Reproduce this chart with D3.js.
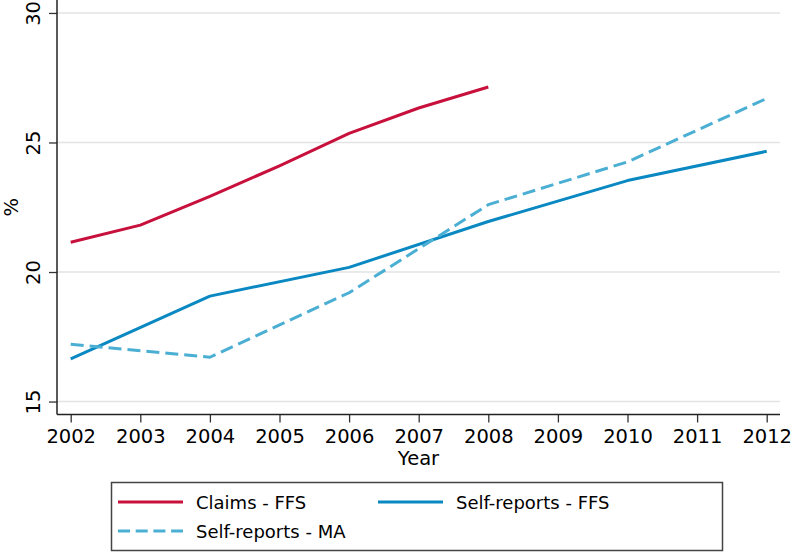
<!DOCTYPE html>
<html>
<head>
<meta charset="utf-8">
<script src="https://cdn.jsdelivr.net/npm/d3@7"></script>
<style>
  html, body { margin: 0; padding: 0; background: #fff; }
  svg { display: block; }
  text { font-family: "DejaVu Sans", Verdana, sans-serif; fill: #000; }
</style>
</head>
<body>
<svg id="chart" width="793" height="553"></svg>
<script>
// ---- data ----
const claimsYears = [2002, 2003, 2004, 2005, 2006, 2007, 2008];
const claimsFFS   = [21.15, 21.81, 22.92, 24.10, 25.35, 26.33, 27.14];
const selfYears   = [2002, 2004, 2006, 2008, 2010, 2012];
const selfFFS     = [16.65, 19.07, 20.18, 21.95, 23.53, 24.66];
const selfMA      = [17.21, 16.71, 19.20, 22.60, 24.25, 26.70];
const xTicks = [2002, 2003, 2004, 2005, 2006, 2007, 2008, 2009, 2010, 2011, 2012];
const yTicks = [15, 20, 25, 30];
const seriesNames = ["Claims - FFS", "Self-reports - FFS", "Self-reports - MA"];
const seriesColors = ["#C8103C", "#0A88C2", "#4BAFD4"];

const svg = d3.select("#chart");
const pLeft = 57, pRight = 780, pBottom = 414.5, pTop = 0;

const x = d3.scaleLinear().domain([2002, 2012]).range([70.7, 766.7]);
const y = d3.scaleLinear().domain([14.5, 30.5]).range([pBottom, pTop]);

// gridlines
svg.append("g").selectAll("line").data(yTicks).join("line")
  .attr("x1", pLeft).attr("x2", pRight)
  .attr("y1", d => y(d)).attr("y2", d => y(d))
  .attr("stroke", "#e3e3e3").attr("stroke-width", 1.5);

// y axis
const yAxis = svg.append("g").attr("transform", `translate(${pLeft},0)`)
  .call(d3.axisLeft(y).tickValues(yTicks).tickSize(8).tickFormat(d3.format("d")));
yAxis.select(".domain").remove();
yAxis.selectAll(".tick line").attr("stroke", "#333").attr("stroke-width", 1.3);
yAxis.selectAll(".tick text")
  .attr("font-size", 19.5)
  .attr("font-family", "DejaVu Sans, Verdana, sans-serif")
  .attr("text-anchor", "middle")
  .attr("x", 0).attr("y", 0).attr("dy", 0)
  .attr("transform", "translate(-17,0) rotate(-90)");
svg.append("line").attr("x1", pLeft).attr("x2", pLeft).attr("y1", pTop).attr("y2", pBottom)
  .attr("stroke", "#222").attr("stroke-width", 1.5);

// x axis
const xAxis = svg.append("g").attr("transform", `translate(0,${pBottom})`)
  .call(d3.axisBottom(x).tickValues(xTicks).tickSize(8).tickFormat(d3.format("d")));
xAxis.select(".domain").remove();
xAxis.selectAll(".tick line").attr("stroke", "#333").attr("stroke-width", 1.3);
xAxis.selectAll(".tick text")
  .attr("font-size", 19.5)
  .attr("font-family", "DejaVu Sans, Verdana, sans-serif")
  .attr("dy", 0).attr("y", 28);
svg.append("line").attr("x1", pLeft).attr("x2", pRight).attr("y1", pBottom).attr("y2", pBottom)
  .attr("stroke", "#222").attr("stroke-width", 1.5);

// axis titles
svg.append("text").attr("x", (pLeft + pRight) / 2).attr("y", 465)
  .attr("text-anchor", "middle").attr("font-size", 19.5).text("Year");
svg.append("text").attr("transform", `translate(18,${(pTop + pBottom) / 2}) rotate(-90)`)
  .attr("text-anchor", "middle").attr("font-size", 19.5).text("%");

// lines
const line = d3.line().x(d => x(d[0])).y(d => y(d[1]));
const series = [
  { name: seriesNames[0], color: seriesColors[0], dash: null, pts: d3.zip(claimsYears, claimsFFS) },
  { name: seriesNames[1], color: seriesColors[1], dash: null, pts: d3.zip(selfYears, selfFFS) },
  { name: seriesNames[2], color: seriesColors[2], dash: "13,6", pts: d3.zip(selfYears, selfMA) }
];
svg.append("g").selectAll("path").data(series).join("path")
  .attr("d", d => line(d.pts))
  .attr("fill", "none")
  .attr("stroke", d => d.color)
  .attr("stroke-width", 3)
  .attr("stroke-linejoin", "round")
  .attr("stroke-dasharray", d => d.dash);

// legend
const lg = svg.append("g");
lg.append("rect").attr("x", 111.5).attr("y", 482.5).attr("width", 611).attr("height", 68)
  .attr("fill", "#fff").attr("stroke", "#444").attr("stroke-width", 1.5);
const legendPos = [
  { lx: 118, ty: 502 },
  { lx: 378, ty: 502 },
  { lx: 118, ty: 531 }
];
series.forEach((s, i) => {
  const p = legendPos[i];
  lg.append("line").attr("x1", p.lx).attr("x2", p.lx + 65)
    .attr("y1", p.ty).attr("y2", p.ty)
    .attr("stroke", s.color).attr("stroke-width", 3)
    .attr("stroke-dasharray", s.dash ? "12,5.7" : null);
  lg.append("text").attr("x", p.lx + 78).attr("y", p.ty + 7)
    .attr("font-size", 18).text(s.name);
});
</script>
</body>
</html>
